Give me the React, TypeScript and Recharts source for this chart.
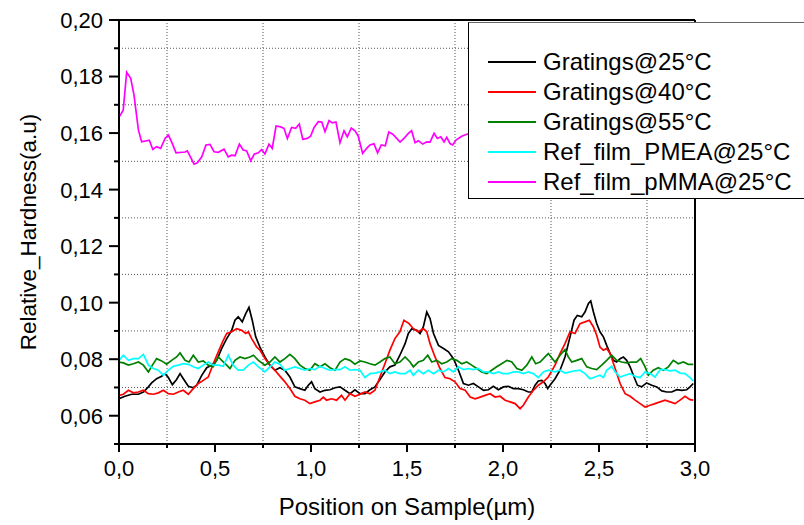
import { LineChart, Line, XAxis, YAxis, Legend, ReferenceLine } from "recharts"

// [position (µm), relative hardness]
const gratings25: [number, number][] = [
  [0, 0.066], [0.031, 0.0669], [0.066, 0.0676], [0.101, 0.0676], [0.127, 0.0684], [0.153, 0.0702],
  [0.17, 0.0716], [0.196, 0.0731], [0.222, 0.074], [0.24, 0.0749], [0.257, 0.0735], [0.278, 0.071],
  [0.3, 0.0728], [0.318, 0.0749], [0.335, 0.0731], [0.361, 0.0704], [0.387, 0.0699], [0.405, 0.0708],
  [0.431, 0.0743], [0.457, 0.077], [0.483, 0.0779], [0.509, 0.0796], [0.535, 0.0838], [0.561, 0.0873],
  [0.587, 0.0902], [0.604, 0.0938], [0.621, 0.095], [0.642, 0.0932], [0.66, 0.0961], [0.677, 0.0983],
  [0.694, 0.0938], [0.712, 0.0879], [0.734, 0.0843], [0.76, 0.0808], [0.786, 0.0779], [0.812, 0.0761],
  [0.838, 0.077], [0.864, 0.0761], [0.89, 0.0737], [0.916, 0.0702], [0.942, 0.0696], [0.968, 0.069],
  [0.986, 0.0708], [1.003, 0.072], [1.02, 0.0696], [1.047, 0.0684], [1.073, 0.069], [1.099, 0.0692],
  [1.125, 0.0699], [1.151, 0.0702], [1.177, 0.069], [1.203, 0.0678], [1.229, 0.0692], [1.255, 0.0678],
  [1.281, 0.0678], [1.307, 0.0692], [1.333, 0.0702], [1.359, 0.0728], [1.385, 0.0755], [1.411, 0.0773],
  [1.437, 0.0779], [1.463, 0.0814], [1.49, 0.0855], [1.507, 0.0891], [1.525, 0.0908], [1.551, 0.0902],
  [1.568, 0.0891], [1.585, 0.0914], [1.603, 0.0967], [1.62, 0.0944], [1.638, 0.0891], [1.664, 0.0849],
  [1.69, 0.0838], [1.716, 0.0826], [1.742, 0.0802], [1.768, 0.0761], [1.794, 0.0714], [1.82, 0.0708],
  [1.846, 0.0714], [1.872, 0.0702], [1.898, 0.069], [1.924, 0.0692], [1.95, 0.0704], [1.976, 0.0692],
  [2.002, 0.0702], [2.028, 0.0704], [2.054, 0.0696], [2.08, 0.0696], [2.106, 0.0692], [2.132, 0.0684],
  [2.15, 0.0684], [2.167, 0.0708], [2.184, 0.0723], [2.202, 0.0725], [2.219, 0.0714], [2.233, 0.0696],
  [2.245, 0.0708], [2.271, 0.0731], [2.297, 0.0761], [2.323, 0.0808], [2.349, 0.0879], [2.37, 0.0938],
  [2.387, 0.0955], [2.41, 0.095], [2.427, 0.0967], [2.445, 0.0997], [2.457, 0.1006], [2.471, 0.0967],
  [2.488, 0.0926], [2.505, 0.0897], [2.523, 0.0879], [2.54, 0.0849], [2.558, 0.082], [2.575, 0.0796],
  [2.592, 0.079], [2.61, 0.0802], [2.627, 0.0808], [2.644, 0.0796], [2.662, 0.0773], [2.679, 0.0743],
  [2.7, 0.0708], [2.722, 0.0702], [2.748, 0.0716], [2.775, 0.0708], [2.801, 0.0702], [2.827, 0.0688],
  [2.853, 0.0684], [2.879, 0.0684], [2.905, 0.0692], [2.931, 0.069], [2.957, 0.0692], [2.974, 0.0702],
  [2.991, 0.0714],
]

const gratings40: [number, number][] = [
  [0, 0.0672], [0.023, 0.0676], [0.049, 0.069], [0.075, 0.0681], [0.101, 0.0684], [0.127, 0.069],
  [0.153, 0.0678], [0.179, 0.0676], [0.205, 0.0681], [0.231, 0.069], [0.257, 0.0678], [0.283, 0.0676],
  [0.309, 0.0684], [0.335, 0.069], [0.361, 0.0676], [0.387, 0.0696], [0.413, 0.0714], [0.439, 0.0725],
  [0.465, 0.0737], [0.491, 0.0784], [0.517, 0.0826], [0.543, 0.0867], [0.561, 0.0891], [0.587, 0.0897],
  [0.613, 0.0908], [0.639, 0.0902], [0.66, 0.0891], [0.674, 0.0897], [0.691, 0.0873], [0.717, 0.0843],
  [0.734, 0.0832], [0.76, 0.0802], [0.786, 0.0779], [0.812, 0.0761], [0.838, 0.074], [0.864, 0.072],
  [0.89, 0.0696], [0.916, 0.0669], [0.942, 0.066], [0.968, 0.0655], [0.994, 0.0643], [1.02, 0.0649],
  [1.047, 0.0655], [1.064, 0.0666], [1.081, 0.0655], [1.107, 0.066], [1.133, 0.0655], [1.159, 0.0672],
  [1.177, 0.0655], [1.203, 0.0678], [1.229, 0.0669], [1.255, 0.0676], [1.281, 0.0684], [1.307, 0.0678],
  [1.333, 0.069], [1.359, 0.0737], [1.385, 0.0784], [1.411, 0.0832], [1.437, 0.0873], [1.463, 0.0897],
  [1.484, 0.0938], [1.511, 0.0926], [1.533, 0.0908], [1.559, 0.0897], [1.585, 0.0908], [1.603, 0.0897],
  [1.62, 0.0855], [1.646, 0.0808], [1.672, 0.0767], [1.698, 0.0735], [1.724, 0.0731], [1.75, 0.072],
  [1.776, 0.0696], [1.803, 0.069], [1.829, 0.0666], [1.855, 0.066], [1.881, 0.0666], [1.907, 0.0672],
  [1.933, 0.0678], [1.959, 0.0666], [1.985, 0.0669], [2.011, 0.0655], [2.037, 0.0649], [2.063, 0.0643],
  [2.089, 0.0625], [2.106, 0.0637], [2.132, 0.0666], [2.158, 0.069], [2.184, 0.0708], [2.21, 0.072],
  [2.236, 0.0737], [2.271, 0.0779], [2.297, 0.082], [2.323, 0.0855], [2.349, 0.0897], [2.375, 0.0891],
  [2.401, 0.0926], [2.427, 0.0932], [2.45, 0.0938], [2.471, 0.0914], [2.488, 0.0885], [2.505, 0.0843],
  [2.523, 0.0832], [2.54, 0.0838], [2.558, 0.082], [2.584, 0.0767], [2.61, 0.0714], [2.636, 0.0678],
  [2.662, 0.0669], [2.688, 0.0655], [2.714, 0.0643], [2.74, 0.0631], [2.766, 0.0637], [2.792, 0.0643],
  [2.818, 0.0649], [2.844, 0.0655], [2.87, 0.0649], [2.896, 0.0643], [2.922, 0.0655], [2.948, 0.0669],
  [2.974, 0.0657], [2.991, 0.0655],
]

const gratings55: [number, number][] = [
  [0, 0.079], [0.023, 0.0787], [0.049, 0.0779], [0.075, 0.0784], [0.101, 0.079], [0.127, 0.0779],
  [0.153, 0.0755], [0.174, 0.0779], [0.196, 0.0802], [0.222, 0.0794], [0.248, 0.0782], [0.274, 0.0796],
  [0.3, 0.0808], [0.318, 0.0822], [0.344, 0.0796], [0.365, 0.079], [0.387, 0.0814], [0.413, 0.079],
  [0.439, 0.0794], [0.465, 0.0779], [0.491, 0.0773], [0.517, 0.0808], [0.535, 0.0796], [0.561, 0.0779],
  [0.578, 0.0767], [0.604, 0.0796], [0.63, 0.0808], [0.656, 0.0802], [0.682, 0.0808], [0.7, 0.0814],
  [0.726, 0.0796], [0.76, 0.0779], [0.786, 0.079], [0.812, 0.0808], [0.838, 0.079], [0.864, 0.0802],
  [0.89, 0.0817], [0.916, 0.0802], [0.942, 0.0779], [0.968, 0.0767], [0.994, 0.0761], [1.02, 0.0784],
  [1.047, 0.0773], [1.073, 0.0784], [1.099, 0.077], [1.125, 0.0761], [1.151, 0.079], [1.177, 0.0802],
  [1.203, 0.0796], [1.229, 0.0782], [1.255, 0.0794], [1.281, 0.079], [1.307, 0.0784], [1.333, 0.0779],
  [1.359, 0.079], [1.385, 0.0802], [1.411, 0.0808], [1.437, 0.0784], [1.463, 0.079], [1.49, 0.0808],
  [1.516, 0.079], [1.533, 0.0773], [1.559, 0.079], [1.585, 0.0796], [1.608, 0.0814], [1.629, 0.079],
  [1.655, 0.0796], [1.681, 0.0784], [1.707, 0.079], [1.733, 0.0802], [1.759, 0.0796], [1.785, 0.0784],
  [1.811, 0.079], [1.837, 0.0779], [1.863, 0.0767], [1.889, 0.0755], [1.915, 0.0749], [1.941, 0.0761],
  [1.967, 0.0773], [1.993, 0.0784], [2.02, 0.0796], [2.046, 0.079], [2.072, 0.0767], [2.098, 0.0761],
  [2.124, 0.0779], [2.15, 0.0808], [2.17, 0.0784], [2.193, 0.079], [2.219, 0.0808], [2.236, 0.082],
  [2.271, 0.079], [2.297, 0.0814], [2.323, 0.0834], [2.34, 0.0808], [2.358, 0.079], [2.384, 0.0796],
  [2.41, 0.0802], [2.436, 0.0773], [2.462, 0.0767], [2.488, 0.0763], [2.514, 0.0779], [2.54, 0.0796],
  [2.566, 0.0814], [2.592, 0.0796], [2.618, 0.079], [2.644, 0.0787], [2.67, 0.079], [2.696, 0.079],
  [2.717, 0.0802], [2.74, 0.0773], [2.757, 0.0743], [2.783, 0.0761], [2.809, 0.077], [2.835, 0.0761],
  [2.861, 0.0773], [2.887, 0.0796], [2.913, 0.0784], [2.939, 0.079], [2.965, 0.0782], [2.991, 0.0782],
]

const refPmea: [number, number][] = [
  [0, 0.0796], [0.023, 0.0814], [0.049, 0.0796], [0.075, 0.0802], [0.101, 0.0802], [0.127, 0.0817],
  [0.153, 0.0779], [0.179, 0.0767], [0.205, 0.0761], [0.231, 0.0743], [0.257, 0.0761], [0.283, 0.0775],
  [0.309, 0.0779], [0.335, 0.0784], [0.361, 0.0782], [0.387, 0.0773], [0.413, 0.0767], [0.439, 0.0779],
  [0.465, 0.079], [0.491, 0.0779], [0.517, 0.0779], [0.543, 0.0775], [0.569, 0.0814], [0.595, 0.0779],
  [0.621, 0.0761], [0.647, 0.0761], [0.674, 0.0779], [0.7, 0.079], [0.726, 0.0773], [0.76, 0.0755],
  [0.786, 0.0773], [0.812, 0.079], [0.838, 0.0782], [0.864, 0.0761], [0.89, 0.0767], [0.916, 0.0773],
  [0.942, 0.0767], [0.968, 0.0761], [0.994, 0.0767], [1.02, 0.0763], [1.047, 0.0775], [1.073, 0.0767],
  [1.099, 0.0761], [1.125, 0.0763], [1.151, 0.0763], [1.177, 0.0773], [1.203, 0.0761], [1.229, 0.0763],
  [1.255, 0.0761], [1.281, 0.0735], [1.307, 0.0749], [1.333, 0.0751], [1.359, 0.0755], [1.385, 0.0761],
  [1.411, 0.0749], [1.437, 0.0755], [1.463, 0.0749], [1.49, 0.0749], [1.516, 0.0761], [1.533, 0.0743],
  [1.559, 0.0761], [1.585, 0.0749], [1.611, 0.0761], [1.638, 0.0749], [1.664, 0.0761], [1.69, 0.0755],
  [1.716, 0.0767], [1.742, 0.0755], [1.768, 0.0773], [1.794, 0.0763], [1.82, 0.0767], [1.846, 0.0763],
  [1.872, 0.0767], [1.898, 0.0755], [1.924, 0.0755], [1.95, 0.0749], [1.976, 0.0755], [2.002, 0.0749],
  [2.028, 0.0749], [2.054, 0.0755], [2.08, 0.0755], [2.106, 0.0749], [2.132, 0.0755], [2.158, 0.0749],
  [2.184, 0.0735], [2.21, 0.0755], [2.236, 0.0761], [2.271, 0.0755], [2.297, 0.0761], [2.323, 0.0751],
  [2.349, 0.0755], [2.375, 0.0759], [2.401, 0.0761], [2.427, 0.0749], [2.453, 0.0731], [2.479, 0.0737],
  [2.505, 0.0743], [2.523, 0.0735], [2.54, 0.0761], [2.566, 0.0775], [2.584, 0.0755], [2.61, 0.0737],
  [2.636, 0.0743], [2.662, 0.0749], [2.688, 0.0739], [2.714, 0.0735], [2.74, 0.0755], [2.766, 0.0749],
  [2.792, 0.0737], [2.818, 0.0763], [2.844, 0.0763], [2.87, 0.0759], [2.896, 0.0761], [2.922, 0.0751],
  [2.948, 0.0749], [2.974, 0.0735], [2.991, 0.0723],
]

const refPmma: [number, number][] = [
  [0.002, 0.1658], [0.022, 0.1681], [0.04, 0.1815], [0.061, 0.1794], [0.078, 0.1735], [0.101, 0.1611],
  [0.118, 0.1569], [0.158, 0.1575], [0.176, 0.1542], [0.196, 0.1552], [0.217, 0.1546], [0.24, 0.1581],
  [0.257, 0.1593], [0.274, 0.1569], [0.297, 0.153], [0.344, 0.1533], [0.356, 0.1537], [0.391, 0.149],
  [0.408, 0.1495], [0.431, 0.1516], [0.453, 0.1558], [0.474, 0.156], [0.495, 0.1534], [0.517, 0.1532],
  [0.547, 0.1543], [0.569, 0.1516], [0.587, 0.1522], [0.604, 0.152], [0.627, 0.1561], [0.647, 0.154],
  [0.665, 0.1537], [0.686, 0.1502], [0.705, 0.1526], [0.726, 0.153], [0.743, 0.1542], [0.76, 0.1526],
  [0.781, 0.1561], [0.798, 0.1546], [0.818, 0.1625], [0.842, 0.1622], [0.859, 0.1617], [0.877, 0.1581],
  [0.899, 0.162], [0.92, 0.1617], [0.939, 0.1632], [0.957, 0.1578], [0.981, 0.1581], [0.998, 0.1589],
  [1.016, 0.162], [1.038, 0.164], [1.056, 0.1639], [1.073, 0.1605], [1.094, 0.1644], [1.111, 0.1636],
  [1.13, 0.1639], [1.151, 0.1566], [1.172, 0.1608], [1.189, 0.1587], [1.21, 0.1618], [1.229, 0.1608],
  [1.246, 0.1589], [1.269, 0.1528], [1.29, 0.1546], [1.307, 0.1558], [1.328, 0.1562], [1.347, 0.153],
  [1.366, 0.1558], [1.387, 0.1555], [1.405, 0.1604], [1.426, 0.1596], [1.464, 0.1568], [1.484, 0.1581],
  [1.507, 0.1599], [1.524, 0.1608], [1.542, 0.1566], [1.559, 0.1573], [1.582, 0.1561], [1.603, 0.1569],
  [1.62, 0.1568], [1.641, 0.1599], [1.658, 0.1581], [1.676, 0.1587], [1.693, 0.1569], [1.707, 0.1585],
  [1.724, 0.1563], [1.738, 0.1558], [1.755, 0.1575], [1.785, 0.1589], [1.811, 0.1596], [1.84, 0.16],
  [1.88, 0.1595],
]

const seriesNames = ["Gratings@25°C", "Gratings@40°C", "Gratings@55°C", "Ref_film_PMEA@25°C", "Ref_film_pMMA@25°C"]
const seriesColors = ["#000000", "#ff0000", "#008000", "#00ffff", "#ff00ff"]
const seriesPoints = [gratings25, gratings40, gratings55, refPmea, refPmma]

const xTicks = [0, 0.25, 0.5, 0.75, 1, 1.25, 1.5, 1.75, 2, 2.25, 2.5, 2.75, 3]
const yTicks = [0.05, 0.06, 0.07, 0.08, 0.09, 0.1, 0.11, 0.12, 0.13, 0.14, 0.15, 0.16, 0.17, 0.18, 0.19, 0.2]
const xGrid = [0.25, 0.75, 1.25, 1.75, 2.25, 2.75]
const yGrid = [0.07, 0.09, 0.11, 0.13, 0.15, 0.17, 0.19]

const font = "Arial, 'Liberation Sans', Helvetica, sans-serif"
const comma = (v: number, d: number) => v.toFixed(d).replace(".", ",")

function LeftTick({ x, y, payload }: any) {
  const v = payload.value
  const major = Math.round(v * 100) % 2 === 0
  return (
    <g>
      <line x1={x - (major ? 10 : 5)} x2={x} y1={y} y2={y} stroke="#000" strokeWidth={2} />
      {major && (
        <text x={x - 16} y={y} dy="0.36em" textAnchor="end" fontSize={22} fill="#000" fontFamily={font}>
          {comma(v, 2)}
        </text>
      )}
    </g>
  )
}

function BottomTick({ x, y, payload }: any) {
  const v = payload.value
  const major = Math.round(v * 4) % 2 === 0
  return (
    <g>
      <line x1={x} x2={x} y1={y} y2={y + (major ? 8 : 4)} stroke="#000" strokeWidth={2} />
      {major && (
        <text x={x} y={y + 32} textAnchor="middle" fontSize={22} fill="#000" fontFamily={font}>
          {comma(v, 1)}
        </text>
      )}
    </g>
  )
}

function TopTick({ x, y }: any) {
  return <line x1={x} x2={x} y1={y} y2={y - 3} stroke="#000" strokeWidth={1.5} />
}

function RightTick({ x, y }: any) {
  return <line x1={x} x2={x + 3} y1={y} y2={y} stroke="#000" strokeWidth={1.5} />
}

function LegendBox({ payload }: any) {
  return (
    <div
      style={{
        background: "#fff",
        borderLeft: "1px solid #000",
        borderTop: "1px solid #666",
        borderBottom: "1px solid #000",
        padding: "24px 0 1px 19px",
        fontFamily: font,
        fontSize: 24,
        color: "#000",
      }}
    >
      {(payload || []).map((e: any) => (
        <div key={e.value} style={{ display: "flex", alignItems: "center", height: 30 }}>
          <span style={{ width: 48, borderTop: `2px solid ${e.color}`, marginRight: 7 }} />
          <span style={{ whiteSpace: "nowrap", lineHeight: "30px" }}>{e.value}</span>
        </div>
      ))}
    </div>
  )
}

export default function App() {
  return (
    <div style={{ width: 804, height: 525, overflow: "hidden", position: "relative", background: "#fff" }}>
      <style>{"body{margin:0}"}</style>
      <LineChart width={804} height={525} margin={{ top: 15, right: 99, left: 0, bottom: 0 }} style={{ fontFamily: font }}>
        <XAxis
          dataKey="x"
          type="number"
          domain={[0, 3]}
          ticks={xTicks}
          interval={0}
          height={81}
          tickSize={0}
          tickMargin={0}
          tickLine={false}
          tick={BottomTick}
          axisLine={{ stroke: "#000", strokeWidth: 2 }}
          allowDataOverflow
          label={{
            value: "Position on Sample(µm)",
            position: "insideBottom",
            offset: 10,
            style: { fontSize: 24, fill: "#000", fontFamily: font },
          }}
        />
        <XAxis
          xAxisId="top"
          orientation="top"
          dataKey="x"
          type="number"
          domain={[0, 3]}
          ticks={xTicks}
          interval={0}
          height={5}
          tickSize={0}
          tickMargin={0}
          tickLine={false}
          tick={TopTick}
          axisLine={{ stroke: "#000", strokeWidth: 2 }}
        />
        <YAxis
          type="number"
          domain={[0.05, 0.2]}
          ticks={yTicks}
          interval={0}
          width={119}
          tickSize={0}
          tickMargin={0}
          tickLine={false}
          tick={LeftTick}
          axisLine={{ stroke: "#000", strokeWidth: 2 }}
          allowDataOverflow
          label={{
            value: "Relative_Hardness(a.u)",
            angle: -90,
            position: "insideLeft",
            offset: 28,
            style: { textAnchor: "middle", fontSize: 22.5, fill: "#000", fontFamily: font },
          }}
        />
        <YAxis
          yAxisId="right"
          orientation="right"
          type="number"
          domain={[0.05, 0.2]}
          ticks={yTicks}
          interval={0}
          width={10}
          tickSize={0}
          tickMargin={0}
          tickLine={false}
          tick={RightTick}
          axisLine={{ stroke: "#000", strokeWidth: 2 }}
        />
        {xGrid.map((v) => (
          <ReferenceLine key={"vx" + v} x={v} stroke="#555" strokeDasharray="1 2" />
        ))}
        {yGrid.map((v) => (
          <ReferenceLine key={"hy" + v} y={v} stroke="#555" strokeDasharray="1 2" />
        ))}
        {seriesNames.map((name, i) => (
          <Line
            key={name}
            name={name}
            data={seriesPoints[i].map(([x, y]) => ({ x, y }))}
            dataKey="y"
            type="linear"
            stroke={seriesColors[i]}
            strokeWidth={1.7}
            dot={false}
            activeDot={false}
            isAnimationActive={false}
          />
        ))}
        <Legend
          layout="vertical"
          align="center"
          verticalAlign="middle"
          content={LegendBox}
          wrapperStyle={{ position: "absolute", left: 468, top: 22, width: 360 }}
        />
      </LineChart>
    </div>
  )
}
